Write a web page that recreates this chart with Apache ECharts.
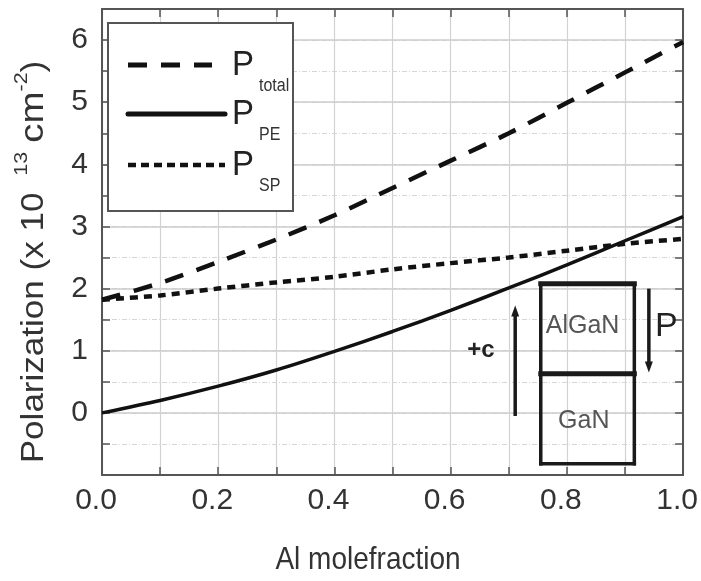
<!DOCTYPE html>
<html>
<head>
<meta charset="utf-8">
<script src="https://cdn.jsdelivr.net/npm/echarts@6/dist/echarts.min.js"></script>
<style>
  html, body { margin: 0; padding: 0; background: #fff; }
  #chart { width: 701px; height: 581px; }
</style>
</head>
<body>
<div id="chart"></div>
<script>
// Al mole fraction (x) and polarization values, in units of 1e13 cm^-2
const alFraction = [0.0, 0.1, 0.2, 0.3, 0.4, 0.5, 0.6, 0.7, 0.8, 0.9, 1.0];
const pTotal = [1.82, 2.09, 2.43, 2.79, 3.18, 3.62, 4.06, 4.50, 4.99, 5.48, 5.97];
const pPE    = [0.00, 0.20, 0.43, 0.69, 0.99, 1.31, 1.65, 2.01, 2.38, 2.77, 3.16];
const pSP    = [1.82, 1.89, 2.00, 2.10, 2.19, 2.31, 2.41, 2.50, 2.61, 2.72, 2.80];

const xTicks = [0.0, 0.2, 0.4, 0.6, 0.8, 1.0];
const yTicks = [0, 1, 2, 3, 4, 5, 6];

const FONT = '"Liberation Sans", Arial, Helvetica, sans-serif';
const INK = '#111';
const FRAME = '#555';

const pairs = ys => alFraction.map((x, i) => [x, ys[i]]);

const chart = echarts.init(document.getElementById('chart'), null, { renderer: 'canvas' });

const frameLine = { show: true, onZero: false, lineStyle: { color: FRAME, width: 2 } };
const innerTick = { show: true, inside: true, length: 8, lineStyle: { color: FRAME, width: 1.5 } };

chart.setOption({
  animation: false,
  backgroundColor: '#fff',
  grid: { left: 102, right: 15, top: 9, bottom: 106, containLabel: false },
  xAxis: [
    {
      type: 'value', min: 0, max: 1, interval: 0.1, position: 'bottom',
      axisLine: frameLine, axisTick: innerTick,
      axisLabel: {
        formatter: v => xTicks.some(t => Math.abs(t - v) < 1e-6) ? v.toFixed(1) : '',
        fontSize: 30, color: '#333', fontFamily: FONT, margin: 11, padding: [0, 12, 0, 0]
      },
      splitLine: { show: true, lineStyle: { color: '#d2d2d2', width: 1.2 } }
    },
    {
      type: 'value', min: 0, max: 1, interval: 0.1, position: 'top',
      axisLine: frameLine, axisTick: innerTick,
      axisLabel: { show: false }, splitLine: { show: false }
    }
  ],
  yAxis: [
    {
      type: 'value', min: -1, max: 6.5, interval: 0.5, position: 'left',
      axisLine: frameLine, axisTick: innerTick,
      axisLabel: {
        formatter: v => yTicks.some(t => Math.abs(t - v) < 1e-6) ? String(Math.round(v)) : '',
        fontSize: 30, color: '#333', fontFamily: FONT, margin: 14
      },
      splitLine: { show: true, lineStyle: { color: '#d6d6d6', width: 1, type: [5, 2, 1, 2] } }
    },
    {
      type: 'value', min: -1, max: 6.5, interval: 0.5, position: 'right',
      axisLine: frameLine, axisTick: innerTick,
      axisLabel: { show: false }, splitLine: { show: false }
    },
    {
      type: 'value', min: -1, max: 6.5, interval: 1, position: 'left',
      axisLine: { show: false }, axisTick: { show: false }, axisLabel: { show: false },
      splitLine: { show: true, lineStyle: { color: '#cdcdcd', width: 1.5 } }
    }
  ],
  series: [
    {
      name: 'P_total', type: 'line', xAxisIndex: 0, yAxisIndex: 0,
      data: pairs(pTotal), smooth: 0.3, showSymbol: false, z: 5,
      lineStyle: { color: INK, width: 4.5, type: [19, 14] }
    },
    {
      name: 'P_PE', type: 'line', xAxisIndex: 0, yAxisIndex: 0,
      data: pairs(pPE), smooth: 0.3, showSymbol: false, z: 5,
      lineStyle: { color: INK, width: 3.5, type: 'solid' }
    },
    {
      name: 'P_SP', type: 'line', xAxisIndex: 0, yAxisIndex: 0,
      data: pairs(pSP), smooth: 0.3, showSymbol: false, z: 5,
      lineStyle: { color: INK, width: 4.5, type: [8, 6] }
    }
  ]
});

// Heterostructure sketch, positioned in data units (x = Al fraction, y = polarization)
const stack = { left: 0.755, right: 0.916, top: 2.08, mid: 0.63, bottom: -0.82 };
const cArrow = { x: 0.711, from: -0.05, to: 1.73 };
const pArrow = { x: 0.941, from: 2.0, to: 0.65 };
const sketchLabels = [
  { text: '+c', at: [0.652, 1.0], size: 24, weight: 'bold', color: '#222' },
  { text: 'P', at: [0.971, 1.39], size: 34, weight: 'normal', color: '#222' },
  { text: 'AlGaN', at: [0.827, 1.40], size: 25, weight: 'normal', color: '#555' },
  { text: 'GaN', at: [0.829, -0.13], size: 25, weight: 'normal', color: '#555' }
];

const px = (x, y) => chart.convertToPixel({ xAxisIndex: 0, yAxisIndex: 0 }, [x, y]);

function seg(a, b, w) {
  return { type: 'line', z: 20, shape: { x1: a[0], y1: a[1], x2: b[0], y2: b[1] },
           style: { stroke: '#1a1a1a', lineWidth: w, lineCap: 'square' } };
}
function arrow(x, yFrom, yTo) {
  const a = px(x, yFrom), b = px(x, yTo);
  const dir = b[1] < a[1] ? -1 : 1;
  const headLen = 11, headHalf = 4;
  return [
    { type: 'line', z: 20, shape: { x1: a[0], y1: a[1], x2: b[0], y2: b[1] - dir * headLen + dir * 2 },
      style: { stroke: '#1a1a1a', lineWidth: 3.5 } },
    { type: 'polygon', z: 20,
      shape: { points: [[b[0], b[1]], [b[0] - headHalf, b[1] - dir * headLen], [b[0] + headHalf, b[1] - dir * headLen]] },
      style: { fill: '#1a1a1a' } }
  ];
}

const tl = px(stack.left, stack.top), tr = px(stack.right, stack.top);
const ml = px(stack.left, stack.mid), mr = px(stack.right, stack.mid);
const bl = px(stack.left, stack.bottom), br = px(stack.right, stack.bottom);

const graphics = [
  seg(tl, tr, 5), seg(ml, mr, 5), seg(bl, br, 3.5),
  seg(tl, bl, 3.5), seg(tr, br, 3.5),
  ...arrow(cArrow.x, cArrow.from, cArrow.to),
  ...arrow(pArrow.x, pArrow.from, pArrow.to),
  ...sketchLabels.map(l => {
    const p = px(l.at[0], l.at[1]);
    return { type: 'text', z: 21, x: p[0], y: p[1],
             style: { text: l.text, fontSize: l.size, fontWeight: l.weight, fontFamily: FONT,
                      fill: l.color, align: 'center', verticalAlign: 'middle' } };
  })
];

// Legend panel
const legendRows = [
  { y: 65, dash: [19, 14], width: 5, x2: 212, sub: 'total' },
  { y: 114, dash: null, width: 5, x2: 225, sub: 'PE' },
  { y: 165, dash: [8, 5], width: 4.5, x2: 225, sub: 'SP' }
];
graphics.push({
  type: 'rect', z: 30, shape: { x: 108, y: 23, width: 185, height: 188 },
  style: { fill: '#fff', stroke: FRAME, lineWidth: 2 }
});
legendRows.forEach(r => {
  graphics.push({
    type: 'line', z: 31, shape: { x1: 128, y1: r.y, x2: r.x2, y2: r.y },
    style: { stroke: INK, lineWidth: r.width, lineDash: r.dash || null, lineCap: r.dash ? 'butt' : 'round' }
  });
  graphics.push({
    type: 'text', z: 31, x: 232, y: r.y, scaleY: 1.08,
    style: { text: 'P', fontSize: 33, fontFamily: FONT, fill: '#222', align: 'left', verticalAlign: 'middle' }
  });
  graphics.push({
    type: 'text', z: 31, x: 259, y: r.y + 21, scaleY: 1.1,
    style: { text: r.sub, fontSize: 16, fontFamily: FONT, fill: '#333', align: 'left', verticalAlign: 'middle' }
  });
});

// Axis titles
graphics.push({
  type: 'text', z: 10, x: 368, y: 561, scaleY: 1.1,
  style: { text: 'Al molefraction', fontSize: 28, fontFamily: FONT, fill: '#333',
           align: 'center', verticalAlign: 'middle' }
});
graphics.push({
  type: 'text', z: 10, x: 34, y: 262, rotation: Math.PI / 2, scaleX: 1.13,
  style: {
    text: '{m|Polarization (x 10}{g1|}{s|13}{g2|}{c|cm}{s|-2}{m|)}',
    fontFamily: FONT, fill: '#333', align: 'center', verticalAlign: 'middle',
    rich: {
      m: { fontSize: 31, lineHeight: 44, fontFamily: FONT, fill: '#333', verticalAlign: 'middle' },
      c: { fontSize: 34, lineHeight: 44, fontFamily: FONT, fill: '#333', verticalAlign: 'middle' },
      g1: { width: 15, fontSize: 12, lineHeight: 12, verticalAlign: 'top' },
      g2: { width: 8, fontSize: 12, lineHeight: 12, verticalAlign: 'top' },
      s: { fontSize: 19, lineHeight: 19, fontFamily: FONT, fill: '#333', verticalAlign: 'top' }
    }
  }
});

chart.setOption({ graphic: graphics });
</script>
</body>
</html>
